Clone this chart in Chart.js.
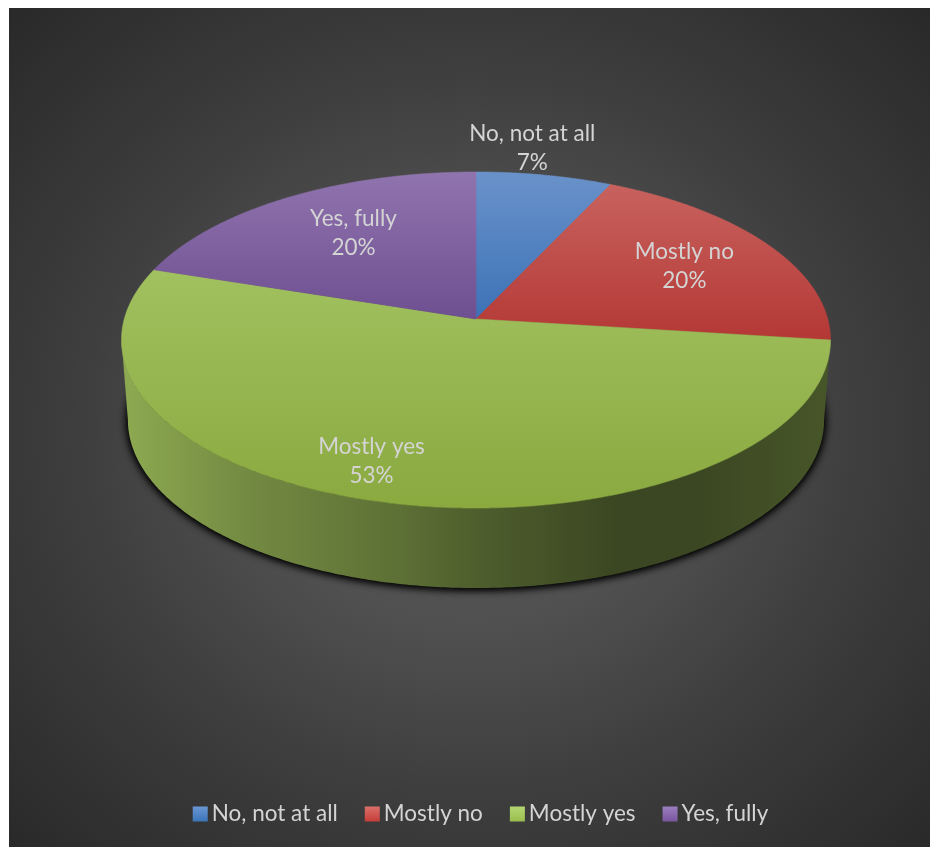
<!DOCTYPE html>
<html>
<head>
<meta charset="utf-8">
<style>
  html, body { margin: 0; padding: 0; background: #fff; }
  canvas { display: block; }
</style>
<script src="https://cdn.jsdelivr.net/npm/chart.js@4"></script>
</head>
<body>
<canvas id="pieChart" width="930" height="847"></canvas>
<script>
const categories = ['No, not at all', 'Mostly no', 'Mostly yes', 'Yes, fully'];
const percentages = [7, 20, 53, 20];

const baseColors = ['#4f81bd', '#c0504d', '#9bbb59', '#8064a2'];
const faceTop = ['#6a92ca', '#c8625e', '#a1c160', '#9074ae'];
const faceBottom = ['#3c72b6', '#b43835', '#8aa93f', '#6e4f91'];
const swatchTop = ['#6a97d5', '#db6f69', '#b3d673', '#9b7fc0'];
const swatchBottom = ['#3b75b8', '#c53d39', '#9bbd4d', '#7a559f'];

// where each label sits, relative to its slice (radius fraction, degrees off the middle)
const labelRadius = [1.2, 0.7, 0.82, 0.67];
const labelTurn = [-3.8, 0.6, 6.5, 2.2];

// tilted disc: apex position, axes and perspective strength
const apexX = 476, apexY = 319, axisX = 351.7, axisY = 165.4, persp = 0.125;
const depth = 80, baseScale = 0.982;
const silhouette = Math.asin(persp); // rim angle past which the side wall is hidden

const wallStops = [0, 0.17, 0.39, 0.5, 0.7, 0.82, 1];
const wallShade = [0.9, 0.74, 0.6, 0.5, 0.38, 0.38, 0.46];

const labelFont = '22.5px Lato';
const labelColor = '#d4d4d4';

function project(angle, r) {
  const X = r * Math.cos(angle);
  const Y = -r * Math.sin(angle);
  const d = 1 + persp * Y;
  return { x: apexX + axisX * X / d, y: apexY - axisY * Y / d };
}

function toBase(p) {
  return { x: apexX + (p.x - apexX) * baseScale, y: p.y + depth };
}

function rim(start, end) {
  const pts = [];
  const steps = Math.max(2, Math.ceil(Math.abs(end - start) / 0.01));
  for (let i = 0; i <= steps; i++) {
    pts.push(project(start + (end - start) * i / steps, 1));
  }
  return pts;
}

function tracePath(ctx, pts) {
  ctx.beginPath();
  pts.forEach((p, i) => (i ? ctx.lineTo(p.x, p.y) : ctx.moveTo(p.x, p.y)));
  ctx.closePath();
}

function shade(hex, f) {
  const n = parseInt(hex.slice(1), 16);
  const c = [n >> 16, (n >> 8) & 255, n & 255].map(v => Math.round(v * f));
  return `rgb(${c[0]}, ${c[1]}, ${c[2]})`;
}

const panelPlugin = {
  id: 'panel',
  beforeDraw(chart) {
    const ctx = chart.ctx;
    ctx.save();
    ctx.fillStyle = '#ffffff';
    ctx.fillRect(0, 0, 930, 847);
    // elliptical glow behind the pie
    ctx.beginPath();
    ctx.rect(9, 8, 921, 839);
    ctx.clip();
    ctx.translate(470, 430);
    ctx.scale(1, 0.92);
    const glow = ctx.createRadialGradient(0, 0, 0, 0, 0, 650);
    glow.addColorStop(0, '#5a5a5a');
    glow.addColorStop(0.33, '#505050');
    glow.addColorStop(0.62, '#3d3d3d');
    glow.addColorStop(1, '#292929');
    ctx.fillStyle = glow;
    ctx.fillRect(-500, -500, 1000, 1000);
    ctx.restore();
  }
};

const disc3dPlugin = {
  id: 'disc3d',
  beforeDatasetsDraw(chart) {
    const ctx = chart.ctx;
    const arcs = chart.getDatasetMeta(0).data;
    const frontStart = silhouette;
    const frontEnd = Math.PI - silhouette;

    ctx.save();

    // soft shadow hugging the underside, painted twice to darken it
    const fullRim = rim(0, Math.PI * 2).map(toBase);
    ctx.save();
    ctx.shadowColor = 'rgba(0, 0, 0, 1)';
    ctx.shadowBlur = 9;
    ctx.shadowOffsetY = 1;
    ctx.fillStyle = '#141414';
    tracePath(ctx, fullRim);
    ctx.fill();
    ctx.fill();
    ctx.restore();

    // side wall, only where a slice faces the viewer
    arcs.forEach((arc, i) => {
      const s = Math.max(arc.startAngle, frontStart);
      const e = Math.min(arc.endAngle, frontEnd);
      if (e <= s) return;
      const top = rim(s, e);
      const wall = top.concat(top.map(toBase).reverse());
      const g = ctx.createLinearGradient(129, 0, 825, 0);
      wallStops.forEach((stop, k) => g.addColorStop(stop, shade(baseColors[i], wallShade[k])));
      ctx.fillStyle = g;
      tracePath(ctx, wall);
      ctx.fill();
    });

    // top faces
    arcs.forEach((arc, i) => {
      const pts = rim(arc.startAngle, arc.endAngle);
      const ys = pts.map(p => p.y).concat(apexY);
      const g = ctx.createLinearGradient(0, Math.min(...ys), 0, Math.max(...ys));
      g.addColorStop(0, faceTop[i]);
      g.addColorStop(1, faceBottom[i]);
      tracePath(ctx, [{ x: apexX, y: apexY }].concat(pts));
      ctx.fillStyle = g;
      ctx.strokeStyle = g;
      ctx.lineWidth = 0.6;
      ctx.fill();
      ctx.stroke();
    });

    // slice labels
    ctx.font = labelFont;
    ctx.fillStyle = labelColor;
    ctx.textAlign = 'center';
    ctx.textBaseline = 'middle';
    arcs.forEach((arc, i) => {
      const mid = (arc.startAngle + arc.endAngle) / 2 + labelTurn[i] * Math.PI / 180;
      const p = project(mid, labelRadius[i]);
      ctx.fillText(categories[i], p.x, p.y - 14.5);
      ctx.fillText(chart.data.datasets[0].data[i] + '%', p.x, p.y + 14.5);
    });
    ctx.restore();
    return false;
  }
};

// legend row along the bottom, tighter between swatch and text than the stock legend
const legendRowPlugin = {
  id: 'legendRow',
  afterDraw(chart) {
    const ctx = chart.ctx;
    const box = 15, textGap = 4, itemGap = 27, midY = 814;
    ctx.save();
    ctx.font = labelFont;
    ctx.textBaseline = 'middle';
    const widths = categories.map(c => ctx.measureText(c).width);
    const total = widths.reduce((a, w) => a + w + box + textGap, 0) + itemGap * (categories.length - 1);
    let x = 480.5 - total / 2;
    categories.forEach((c, i) => {
      const g = ctx.createLinearGradient(0, midY - box / 2, 0, midY + box / 2);
      g.addColorStop(0, swatchTop[i]);
      g.addColorStop(1, swatchBottom[i]);
      ctx.fillStyle = g;
      ctx.fillRect(x, midY - box / 2, box, box);
      ctx.fillStyle = labelColor;
      ctx.fillText(c, x + box + textGap, midY);
      x += box + textGap + widths[i] + itemGap;
    });
    ctx.restore();
  }
};

new Chart(document.getElementById('pieChart').getContext('2d'), {
  type: 'pie',
  data: {
    labels: categories,
    datasets: [{
      data: percentages,
      backgroundColor: baseColors,
      borderWidth: 0
    }]
  },
  options: {
    responsive: false,
    animation: false,
    plugins: {
      legend: { display: false },
      tooltip: { enabled: false }
    }
  },
  plugins: [panelPlugin, disc3dPlugin, legendRowPlugin]
});
</script>
</body>
</html>
